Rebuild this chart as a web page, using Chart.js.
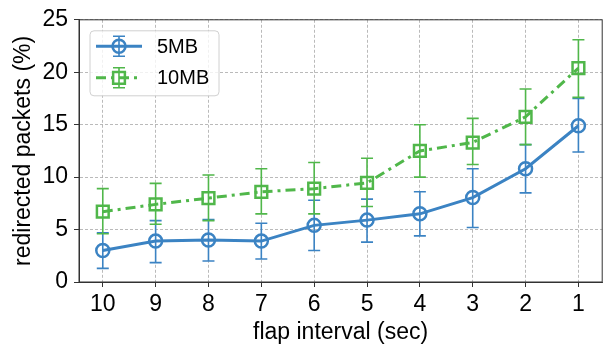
<!DOCTYPE html>
<html>
<head>
<meta charset="utf-8">
<script src="https://cdn.jsdelivr.net/npm/chart.js@4"></script>
<style>
html, body { margin: 0; padding: 0; background: #fff; }
</style>
</head>
<body>
<canvas id="chart" width="613" height="345"></canvas>
<script>
const intervals = [10, 9, 8, 7, 6, 5, 4, 3, 2, 1];
const mb5 = [3.0, 3.9, 4.0, 3.9, 5.4, 5.9, 6.5, 8.05, 10.8, 14.9];
const mb5Lo = [1.3, 1.85, 2.0, 2.2, 3.0, 3.8, 4.4, 5.2, 8.5, 12.4];
const mb5Hi = [4.7, 5.85, 5.95, 5.6, 7.8, 7.9, 8.6, 10.8, 13.1, 17.5];
const mb10 = [6.7, 7.4, 8.0, 8.6, 8.9, 9.45, 12.5, 13.3, 15.75, 20.4];
const mb10Lo = [4.6, 5.5, 5.85, 6.5, 6.5, 7.2, 10.0, 11.2, 13.1, 17.6];
const mb10Hi = [8.9, 9.4, 10.2, 10.8, 11.4, 11.8, 15.0, 15.6, 18.4, 23.1];

const blue = "#3b83c3";
const green = "#50b74a";

Chart.defaults.font.family = "'Liberation Sans', Arial, sans-serif";
Chart.defaults.color = "#000";

// vertical error bars with caps, drawn through the scales
const errorBars = {
  id: "errorBars",
  afterDatasetsDraw(chart) {
    const { ctx, scales: { x, y } } = chart;
    chart.data.datasets.forEach(ds => {
      ctx.save();
      ctx.strokeStyle = ds.borderColor;
      ctx.lineWidth = 1.6;
      ds.errLo.forEach((lo, j) => {
        const px = x.getPixelForValue(ds.data[j].x);
        const y1 = y.getPixelForValue(lo);
        const y2 = y.getPixelForValue(ds.errHi[j]);
        ctx.beginPath();
        ctx.moveTo(px, y1); ctx.lineTo(px, y2);
        ctx.moveTo(px - 6, y1); ctx.lineTo(px + 6, y1);
        ctx.moveTo(px - 6, y2); ctx.lineTo(px + 6, y2);
        ctx.stroke();
      });
      ctx.restore();
    });
  }
};

// frame + legend in the top-left corner of the plot
const frameLegend = {
  id: "frameLegend",
  afterDraw(chart) {
    const { ctx, chartArea: a } = chart;
    ctx.save();
    ctx.strokeStyle = "#333";
    ctx.lineWidth = 1;
    ctx.strokeRect(a.left, a.top, a.right - a.left, a.bottom - a.top);

    const bx = a.left + 11, by = a.top + 11;
    ctx.beginPath();
    ctx.roundRect(bx, by, 129, 65, 4);
    ctx.fillStyle = "rgba(255,255,255,0.8)";
    ctx.fill();
    ctx.strokeStyle = "#d0d0d0";
    ctx.stroke();

    chart.data.datasets.forEach((ds, i) => {
      const ly = by + 15.5 + i * 31.5;
      const mx = bx + 29;
      ctx.strokeStyle = ds.borderColor;
      ctx.lineWidth = ds.borderWidth;
      ctx.setLineDash(ds.borderDash || []);
      ctx.beginPath();
      ctx.moveTo(bx + 6, ly); ctx.lineTo(bx + 52, ly);
      ctx.stroke();
      ctx.setLineDash([]);
      ctx.lineWidth = 1.6;
      ctx.beginPath();
      ctx.moveTo(mx, ly - 10); ctx.lineTo(mx, ly + 10);
      ctx.moveTo(mx - 6, ly - 10); ctx.lineTo(mx + 6, ly - 10);
      ctx.moveTo(mx - 6, ly + 10); ctx.lineTo(mx + 6, ly + 10);
      ctx.stroke();
      ctx.lineWidth = ds.pointBorderWidth;
      ctx.beginPath();
      if (ds.pointStyle === "rect") {
        const s = ds.pointRadius * Math.SQRT1_2;
        ctx.rect(mx - s, ly - s, 2 * s, 2 * s);
      } else {
        ctx.arc(mx, ly, ds.pointRadius, 0, Math.PI * 2);
      }
      ctx.stroke();
      ctx.fillStyle = "#000";
      ctx.font = "20px 'Liberation Sans', Arial, sans-serif";
      ctx.textBaseline = "middle";
      ctx.fillText(ds.label, bx + 67, ly + 1);
    });
    ctx.restore();
  }
};

new Chart(document.getElementById("chart"), {
  type: "line",
  data: {
    datasets: [
      {
        label: "5MB",
        data: intervals.map((v, i) => ({ x: v, y: mb5[i] })),
        errLo: mb5Lo,
        errHi: mb5Hi,
        borderColor: blue,
        borderWidth: 3,
        pointStyle: "circle",
        pointRadius: 6.5,
        pointBorderWidth: 2.5,
        pointBorderColor: blue,
        pointBackgroundColor: "rgba(0,0,0,0)"
      },
      {
        label: "10MB",
        data: intervals.map((v, i) => ({ x: v, y: mb10[i] })),
        errLo: mb10Lo,
        errHi: mb10Hi,
        borderColor: green,
        borderWidth: 3,
        borderDash: [10, 5, 3, 5],
        pointStyle: "rect",
        pointRadius: 8.3,
        pointBorderWidth: 2.5,
        pointBorderColor: green,
        pointBackgroundColor: "rgba(0,0,0,0)"
      }
    ]
  },
  options: {
    responsive: false,
    animation: false,
    layout: { padding: { top: 17, right: 1, left: 0, bottom: 0 } },
    plugins: { legend: { display: false }, tooltip: { enabled: false } },
    scales: {
      x: {
        type: "linear",
        reverse: true,
        min: 0.55,
        max: 10.45,
        afterBuildTicks: s => { s.ticks = intervals.map(v => ({ value: v })); },
        afterFit: s => { s.height = 63; },
        ticks: { font: { size: 23 }, padding: 4, maxRotation: 0 },
        grid: { color: "#a8a8a8", lineWidth: 0.8, tickColor: "#333", tickLength: 5, tickWidth: 1 },
        border: { color: "#333", width: 1, dash: [3, 2] },
        title: { display: true, text: "flap interval (sec)", font: { size: 23, lineHeight: 1.0 }, padding: { bottom: 1, top: 0 } }
      },
      y: {
        min: 0,
        max: 25,
        afterFit: s => { s.width = 79; },
        ticks: { stepSize: 5, font: { size: 23 }, padding: 6 },
        grid: { color: "#a8a8a8", lineWidth: 0.8, tickColor: "#333", tickLength: 5, tickWidth: 1 },
        border: { color: "#333", width: 1, dash: [3, 2] },
        title: { display: true, text: "redirected packets (%)", font: { size: 23 }, padding: { top: 10, bottom: 0 } }
      }
    }
  },
  plugins: [errorBars, frameLegend]
});
</script>
</body>
</html>
